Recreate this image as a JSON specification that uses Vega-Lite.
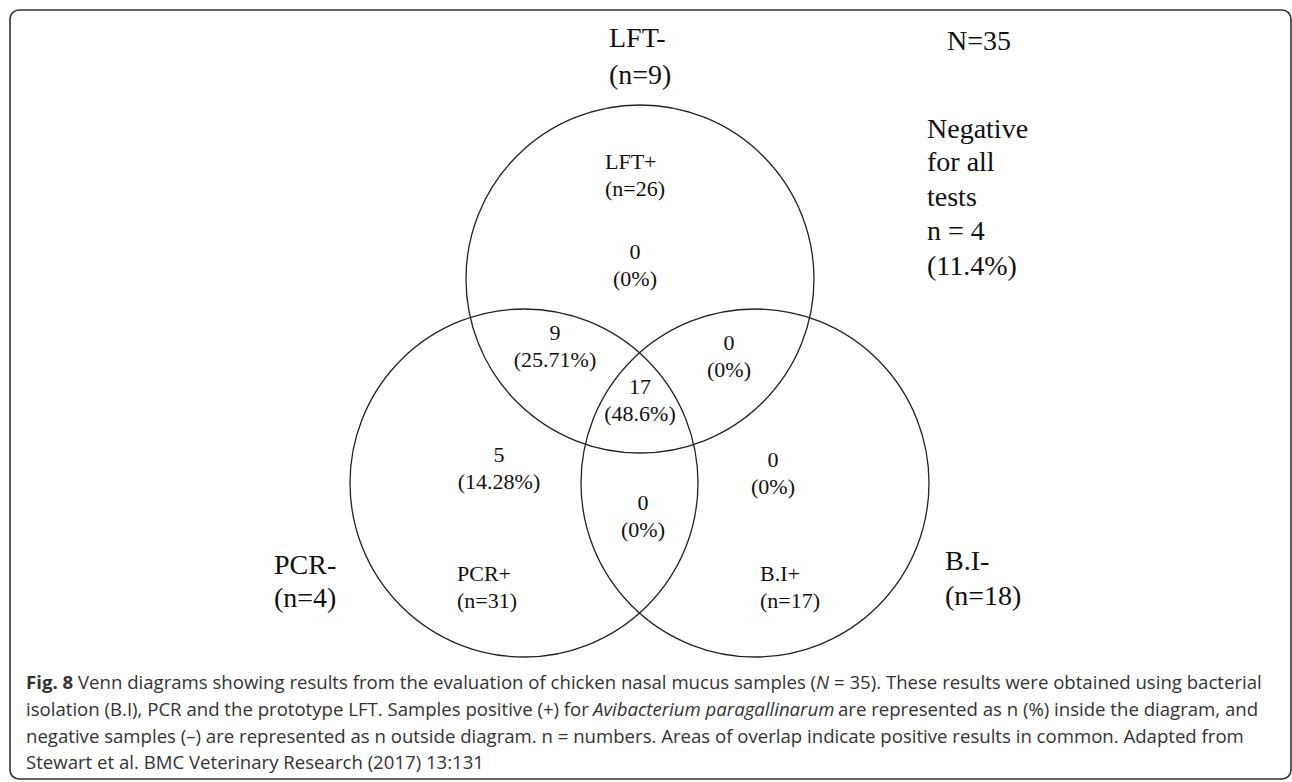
{
  "$schema": "https://vega.github.io/schema/vega-lite/v6.json",
  "autosize": {"type": "fit", "contains": "padding"},
  "width": 1292,
  "height": 782,
  "padding": {"left": 10, "top": 10, "right": 1, "bottom": 3},
  "background": "white",
  "config": {"view": {"stroke": "#333333", "strokeWidth": 1.6, "cornerRadius": 9}},
  "datasets": {
    "sets": [
      {"set": "LFT", "positive": 26, "negative": 9, "x": 640, "y": 279},
      {"set": "PCR", "positive": 31, "negative": 4, "x": 524, "y": 483},
      {"set": "B.I", "positive": 17, "negative": 18, "x": 755, "y": 483}
    ],
    "regions": [
      {"region": "LFT only", "n": "0", "pct": "(0%)", "x": 635, "y": 265.5},
      {"region": "LFT & PCR", "n": "9", "pct": "(25.71%)", "x": 555, "y": 346},
      {"region": "LFT & B.I", "n": "0", "pct": "(0%)", "x": 729, "y": 356},
      {"region": "All three", "n": "17", "pct": "(48.6%)", "x": 640, "y": 400},
      {"region": "PCR only", "n": "5", "pct": "(14.28%)", "x": 499, "y": 468},
      {"region": "B.I only", "n": "0", "pct": "(0%)", "x": 773, "y": 473.5},
      {"region": "PCR & B.I", "n": "0", "pct": "(0%)", "x": 643, "y": 516.5}
    ],
    "positives": [
      {"label": "LFT+", "n": "(n=26)", "x": 605, "y": 175.5},
      {"label": "PCR+", "n": "(n=31)", "x": 457, "y": 587.5},
      {"label": "B.I+", "n": "(n=17)", "x": 760, "y": 587.5}
    ],
    "outside": [
      {"t": "LFT-", "x": 609, "y": 39},
      {"t": "(n=9)", "x": 609, "y": 76},
      {"t": "N=35", "x": 947, "y": 42},
      {"t": "Negative", "x": 927, "y": 130},
      {"t": "for all", "x": 927, "y": 163},
      {"t": "tests", "x": 927, "y": 198},
      {"t": "n = 4", "x": 927, "y": 232},
      {"t": "(11.4%)", "x": 927, "y": 267},
      {"t": "PCR-", "x": 274, "y": 566},
      {"t": "(n=4)", "x": 274, "y": 599},
      {"t": "B.I-", "x": 945, "y": 562},
      {"t": "(n=18)", "x": 945, "y": 597}
    ],
    "caption": [
      {"t": "Fig. 8", "style": "bold", "x": 26, "y": 683},
      {"t": "Venn diagrams showing results from the evaluation of chicken nasal mucus samples (", "style": "regular", "x": 78, "y": 683},
      {"t": "N", "style": "italic", "x": 816, "y": 683},
      {"t": "= 35). These results were obtained using bacterial", "style": "regular", "x": 834, "y": 683},
      {"t": "isolation (B.I), PCR and the prototype LFT. Samples positive (+) for", "style": "regular", "x": 26, "y": 710},
      {"t": "Avibacterium paragallinarum", "style": "italic", "x": 593, "y": 710},
      {"t": "are represented as n (%) inside the diagram, and", "style": "regular", "x": 838, "y": 710},
      {"t": "negative samples (–) are represented as n outside diagram. n = numbers. Areas of overlap indicate positive results in common. Adapted from", "style": "regular", "x": 26, "y": 737},
      {"t": "Stewart et al. BMC Veterinary Research (2017) 13:131", "style": "regular", "x": 26, "y": 763}
    ]
  },
  "encoding": {
    "x": {"field": "x", "type": "quantitative", "scale": {"domain": [10, 1291], "nice": false, "zero": false}, "axis": null},
    "y": {"field": "y", "type": "quantitative", "scale": {"domain": [10, 779], "nice": false, "zero": false, "reverse": true}, "axis": null}
  },
  "layer": [
    {
      "data": {"name": "sets"},
      "mark": {"type": "point", "shape": "circle", "size": 121104, "filled": false, "stroke": "#222222", "strokeWidth": 1.3, "opacity": 1}
    },
    {
      "data": {"name": "regions"},
      "mark": {"type": "text", "font": "Liberation Serif", "fontSize": 22, "align": "center", "baseline": "middle", "dy": -13.5, "color": "#111111"},
      "encoding": {"text": {"field": "n"}}
    },
    {
      "data": {"name": "regions"},
      "mark": {"type": "text", "font": "Liberation Serif", "fontSize": 22, "align": "center", "baseline": "middle", "dy": 13.5, "color": "#111111"},
      "encoding": {"text": {"field": "pct"}}
    },
    {
      "data": {"name": "positives"},
      "mark": {"type": "text", "font": "Liberation Serif", "fontSize": 22, "align": "left", "baseline": "middle", "dy": -13.5, "color": "#111111"},
      "encoding": {"text": {"field": "label"}}
    },
    {
      "data": {"name": "positives"},
      "mark": {"type": "text", "font": "Liberation Serif", "fontSize": 22, "align": "left", "baseline": "middle", "dy": 13.5, "color": "#111111"},
      "encoding": {"text": {"field": "n"}}
    },
    {
      "data": {"name": "outside"},
      "mark": {"type": "text", "font": "Liberation Serif", "fontSize": 28, "align": "left", "baseline": "middle", "color": "#111111"},
      "encoding": {"text": {"field": "t"}}
    },
    {
      "data": {"name": "caption"},
      "transform": [{"filter": "datum.style === 'regular'"}],
      "mark": {"type": "text", "font": "Open Sans", "fontSize": 18.6, "align": "left", "baseline": "middle", "color": "#333333"},
      "encoding": {"text": {"field": "t"}}
    },
    {
      "data": {"name": "caption"},
      "transform": [{"filter": "datum.style === 'bold'"}],
      "mark": {"type": "text", "font": "Open Sans", "fontSize": 18.6, "fontWeight": "bold", "align": "left", "baseline": "middle", "color": "#333333"},
      "encoding": {"text": {"field": "t"}}
    },
    {
      "data": {"name": "caption"},
      "transform": [{"filter": "datum.style === 'italic'"}],
      "mark": {"type": "text", "font": "Open Sans", "fontSize": 18.6, "fontStyle": "italic", "align": "left", "baseline": "middle", "color": "#333333"},
      "encoding": {"text": {"field": "t"}}
    }
  ]
}
